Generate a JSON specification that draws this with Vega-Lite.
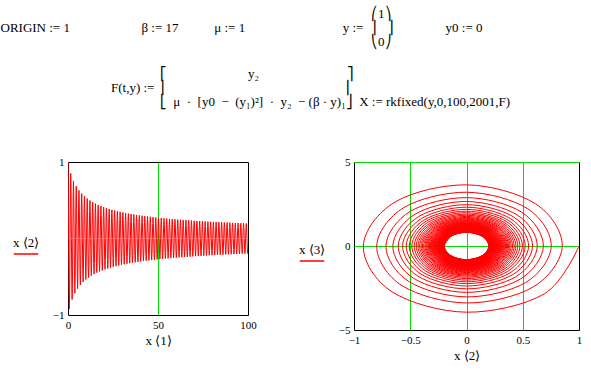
{
"$schema": "https://vega.github.io/schema/vega-lite/v6.json",
"background": "white",
"padding": {"left": 0, "top": 7, "right": 5, "bottom": 5},
"title": {
"text": [
"\u200b\u2003\u2003\u2003\u2003\u2003\u2003\u2003\u2003\u2003\u2003\u2003\u2003\u2003\u2003\u2003\u2003\u2003\u2003\u2003\u2003\u2003\u2003\u2003\u2003\u2003\u2003\u2003\u2003\u00a0\u00a0⎛1⎞",
"ORIGIN := 1\u2003\u2003\u2003\u2003\u2003\u00a0\u00a0β := 17\u2003\u2003\u00a0\u00a0\u00a0μ := 1\u2003\u2003\u2003\u2003\u2003\u2003\u2003\u00a0\u00a0y := \u00a0\u00a0⎜\u00a0\u00a0⎟\u2003\u2003\u2003\u2003y0 := 0",
"\u200b\u2003\u2003\u2003\u2003\u2003\u2003\u2003\u2003\u2003\u2003\u2003\u2003\u2003\u2003\u2003\u2003\u2003\u2003\u2003\u2003\u2003\u2003\u2003\u2003\u2003\u2003\u2003\u2003\u00a0\u00a0⎝0⎠"
],
"subtitle": [
"\u200b\u2003\u2003\u2003\u2003\u2003\u2003\u2003\u2003\u2003\u2003\u2003\u2003\u00a0⎡\u2003\u2003\u2003\u2003\u2003\u2003\u00a0y₂\u2003\u2003\u2003\u2003\u2003\u2003\u00a0\u00a0\u00a0⎤",
"\u200b\u2003\u2003\u2003\u2003\u2003\u2003\u2003\u2003\u00a0\u00a0F(t,y) :=\u00a0\u00a0⎢\u2003\u2003\u2003\u2003\u2003\u2003\u2003\u2003\u2003\u2003\u2003\u2003\u2003\u00a0\u00a0⎥",
"\u200b\u2003\u2003\u2003\u2003\u2003\u2003\u2003\u2003\u2003\u2003\u2003\u2003\u00a0⎣\u00a0\u00a0μ\u00a0\u00a0·\u00a0\u00a0[y0\u00a0\u00a0−\u00a0\u00a0(y₁)²]\u00a0\u00a0·\u00a0\u00a0y₂\u00a0\u00a0−\u00a0(β\u00a0·\u00a0y)₁⎦\u00a0\u00a0X := rkfixed(y,0,100,2001,F)"
],
"anchor": "start",
"frame": "bounds",
"font": "Liberation Serif",
"fontSize": 13,
"fontWeight": "normal",
"color": "black",
"lineHeight": 14,
"subtitleFont": "Liberation Serif",
"subtitleFontSize": 13,
"subtitleColor": "black",
"subtitleLineHeight": 14,
"subtitlePadding": 19,
"offset": 47,
"dx": -12
},
"datasets": {
"sol": [
{"t":0,"a":1,"b":0},{"t":0.19,"a":0.691,"b":-2.85},{"t":0.38,"a":0,"b":-3.94},{"t":0.57,"a":-0.661,"b":-2.73},
{"t":0.76,"a":-0.917,"b":0},{"t":0.95,"a":-0.635,"b":2.62},{"t":1.14,"a":0,"b":3.64},{"t":1.33,"a":0.612,"b":2.52},
{"t":1.52,"a":0.851,"b":0},{"t":1.71,"a":0.592,"b":-2.44},{"t":1.9,"a":0,"b":-3.39},{"t":2.1,"a":-0.573,"b":-2.36},
{"t":2.29,"a":-0.798,"b":0},{"t":2.48,"a":-0.556,"b":2.29},{"t":2.67,"a":0,"b":3.2},{"t":2.86,"a":0.541,"b":2.23},
{"t":3.05,"a":0.753,"b":0},{"t":3.24,"a":0.526,"b":-2.17},{"t":3.43,"a":0,"b":-3.03},{"t":3.62,"a":-0.513,"b":-2.11},
{"t":3.81,"a":-0.716,"b":0},{"t":4,"a":-0.5,"b":2.06},{"t":4.19,"a":0,"b":2.88},{"t":4.38,"a":0.489,"b":2.02},
{"t":4.57,"a":0.683,"b":0},{"t":4.76,"a":0.478,"b":-1.97},{"t":4.95,"a":0,"b":-2.76},{"t":5.14,"a":-0.468,"b":-1.93},
{"t":5.33,"a":-0.655,"b":0},{"t":5.52,"a":-0.458,"b":1.89},{"t":5.71,"a":0,"b":2.65},{"t":5.91,"a":0.45,"b":1.85},
{"t":6.1,"a":0.629,"b":0},{"t":6.29,"a":0.441,"b":-1.82},{"t":6.48,"a":0,"b":-2.55},{"t":6.67,"a":-0.433,"b":-1.79},
{"t":6.86,"a":-0.607,"b":0},{"t":7.05,"a":-0.426,"b":1.75},{"t":7.24,"a":0,"b":2.46},{"t":7.43,"a":0.418,"b":1.73},
{"t":7.62,"a":0.587,"b":0},{"t":7.81,"a":0.412,"b":-1.7},{"t":8,"a":0,"b":-2.38},{"t":8.19,"a":-0.405,"b":-1.67},
{"t":8.38,"a":-0.568,"b":0},{"t":8.57,"a":-0.399,"b":1.64},{"t":8.76,"a":0,"b":2.31},{"t":8.95,"a":0.393,"b":1.62},
{"t":9.14,"a":0.552,"b":0},{"t":9.33,"a":0.387,"b":-1.6},{"t":9.52,"a":0,"b":-2.24},{"t":9.72,"a":-0.382,"b":-1.58},
{"t":9.91,"a":-0.536,"b":0},{"t":10.1,"a":-0.377,"b":1.55},{"t":10.29,"a":0,"b":2.18},{"t":10.48,"a":0.372,"b":1.53},
{"t":10.67,"a":0.522,"b":0},{"t":10.86,"a":0.367,"b":-1.51},{"t":11.05,"a":0,"b":-2.13},{"t":11.24,"a":-0.362,"b":-1.49},
{"t":11.43,"a":-0.509,"b":0},{"t":11.62,"a":-0.358,"b":1.48},{"t":11.81,"a":0,"b":2.07},{"t":12,"a":0.354,"b":1.46},
{"t":12.19,"a":0.497,"b":0},{"t":12.38,"a":0.349,"b":-1.44},{"t":12.57,"a":0,"b":-2.03},{"t":12.76,"a":-0.345,"b":-1.42},
{"t":12.95,"a":-0.486,"b":0},{"t":13.14,"a":-0.342,"b":1.41},{"t":13.33,"a":0,"b":1.98},{"t":13.52,"a":0.338,"b":1.39},
{"t":13.72,"a":0.475,"b":0},{"t":13.91,"a":0.334,"b":-1.38},{"t":14.1,"a":0,"b":-1.94},{"t":14.29,"a":-0.331,"b":-1.36},
{"t":14.48,"a":-0.465,"b":0},{"t":14.67,"a":-0.327,"b":1.35},{"t":14.86,"a":0,"b":1.9},{"t":15.05,"a":0.324,"b":1.34},
{"t":15.24,"a":0.456,"b":0},{"t":15.43,"a":0.321,"b":-1.32},{"t":15.62,"a":0,"b":-1.86},{"t":15.81,"a":-0.318,"b":-1.31},
{"t":16,"a":-0.447,"b":0},{"t":16.19,"a":-0.315,"b":1.3},{"t":16.38,"a":0,"b":1.83},{"t":16.57,"a":0.312,"b":1.29},
{"t":16.76,"a":0.439,"b":0},{"t":16.95,"a":0.309,"b":-1.27},{"t":17.14,"a":0,"b":-1.79},{"t":17.33,"a":-0.306,"b":-1.26},
{"t":17.53,"a":-0.431,"b":0},{"t":17.72,"a":-0.303,"b":1.25},{"t":17.91,"a":0,"b":1.76},{"t":18.1,"a":0.301,"b":1.24},
{"t":18.29,"a":0.424,"b":0},{"t":18.48,"a":0.298,"b":-1.23},{"t":18.67,"a":0,"b":-1.73},{"t":18.86,"a":-0.296,"b":-1.22},
{"t":19.05,"a":-0.417,"b":0},{"t":19.24,"a":-0.293,"b":1.21},{"t":19.43,"a":0,"b":1.7},{"t":19.62,"a":0.291,"b":1.2},
{"t":19.81,"a":0.41,"b":0},{"t":20,"a":0.289,"b":-1.19},{"t":20.19,"a":0,"b":-1.68},{"t":20.38,"a":-0.286,"b":-1.18},
{"t":20.57,"a":-0.404,"b":0},{"t":20.76,"a":-0.284,"b":1.17},{"t":20.95,"a":0,"b":1.65},{"t":21.14,"a":0.282,"b":1.16},
{"t":21.33,"a":0.397,"b":0},{"t":21.53,"a":0.28,"b":-1.15},{"t":21.72,"a":0,"b":-1.63},{"t":21.91,"a":-0.278,"b":-1.15},
{"t":22.1,"a":-0.392,"b":0},{"t":22.29,"a":-0.276,"b":1.14},{"t":22.48,"a":0,"b":1.6},{"t":22.67,"a":0.274,"b":1.13},
{"t":22.86,"a":0.386,"b":0},{"t":23.05,"a":0.272,"b":-1.12},{"t":23.24,"a":0,"b":-1.58},{"t":23.43,"a":-0.27,"b":-1.11},
{"t":23.62,"a":-0.381,"b":0},{"t":23.81,"a":-0.268,"b":1.11},{"t":24,"a":0,"b":1.56},{"t":24.19,"a":0.266,"b":1.1},
{"t":24.38,"a":0.375,"b":0},{"t":24.57,"a":0.265,"b":-1.09},{"t":24.76,"a":0,"b":-1.54},{"t":24.95,"a":-0.263,"b":-1.08},
{"t":25.14,"a":-0.37,"b":0},{"t":25.34,"a":-0.261,"b":1.08},{"t":25.53,"a":0,"b":1.52},{"t":25.72,"a":0.259,"b":1.07},
{"t":25.91,"a":0.366,"b":0},{"t":26.1,"a":0.258,"b":-1.06},{"t":26.29,"a":0,"b":-1.5},{"t":26.48,"a":-0.256,"b":-1.06},
{"t":26.67,"a":-0.361,"b":0},{"t":26.86,"a":-0.255,"b":1.05},{"t":27.05,"a":0,"b":1.48},{"t":27.24,"a":0.253,"b":1.04},
{"t":27.43,"a":0.357,"b":0},{"t":27.62,"a":0.252,"b":-1.04},{"t":27.81,"a":0,"b":-1.46},{"t":28,"a":-0.25,"b":-1.03},
{"t":28.19,"a":-0.353,"b":0},{"t":28.38,"a":-0.249,"b":1.02},{"t":28.57,"a":0,"b":1.44},{"t":28.76,"a":0.247,"b":1.02},
{"t":28.95,"a":0.348,"b":0},{"t":29.15,"a":0.246,"b":-1.01},{"t":29.34,"a":0,"b":-1.43},{"t":29.53,"a":-0.244,"b":-1.01},
{"t":29.72,"a":-0.344,"b":0},{"t":29.91,"a":-0.243,"b":1},{"t":30.1,"a":0,"b":1.41},{"t":30.29,"a":0.242,"b":1},
{"t":30.48,"a":0.341,"b":0},{"t":30.67,"a":0.24,"b":-0.99},{"t":30.86,"a":0,"b":-1.4},{"t":31.05,"a":-0.239,"b":-0.98},
{"t":31.24,"a":-0.337,"b":0},{"t":31.43,"a":-0.238,"b":0.98},{"t":31.62,"a":0,"b":1.38},{"t":31.81,"a":0.236,"b":0.97},
{"t":32,"a":0.333,"b":0},{"t":32.19,"a":0.235,"b":-0.97},{"t":32.38,"a":0,"b":-1.37},{"t":32.57,"a":-0.234,"b":-0.96},
{"t":32.76,"a":-0.33,"b":0},{"t":32.95,"a":-0.233,"b":0.96},{"t":33.15,"a":0,"b":1.35},{"t":33.34,"a":0.231,"b":0.95},
{"t":33.53,"a":0.326,"b":0},{"t":33.72,"a":0.23,"b":-0.95},{"t":33.91,"a":0,"b":-1.34},{"t":34.1,"a":-0.229,"b":-0.94},
{"t":34.29,"a":-0.323,"b":0},{"t":34.48,"a":-0.228,"b":0.94},{"t":34.67,"a":0,"b":1.33},{"t":34.86,"a":0.227,"b":0.94},
{"t":35.05,"a":0.32,"b":0},{"t":35.24,"a":0.226,"b":-0.93},{"t":35.43,"a":0,"b":-1.31},{"t":35.62,"a":-0.225,"b":-0.93},
{"t":35.81,"a":-0.317,"b":0},{"t":36,"a":-0.224,"b":0.92},{"t":36.19,"a":0,"b":1.3},{"t":36.38,"a":0.223,"b":0.92},
{"t":36.57,"a":0.314,"b":0},{"t":36.76,"a":0.222,"b":-0.91},{"t":36.96,"a":0,"b":-1.29},{"t":37.15,"a":-0.22,"b":-0.91},
{"t":37.34,"a":-0.311,"b":0},{"t":37.53,"a":-0.219,"b":0.9},{"t":37.72,"a":0,"b":1.28},{"t":37.91,"a":0.218,"b":0.9},
{"t":38.1,"a":0.308,"b":0},{"t":38.29,"a":0.218,"b":-0.9},{"t":38.48,"a":0,"b":-1.27},{"t":38.67,"a":-0.217,"b":-0.89},
{"t":38.86,"a":-0.306,"b":0},{"t":39.05,"a":-0.215,"b":0.89},{"t":39.24,"a":0,"b":1.25},{"t":39.43,"a":0.215,"b":0.89},
{"t":39.62,"a":0.303,"b":0},{"t":39.81,"a":0.213,"b":-0.88},{"t":40,"a":0,"b":-1.24},{"t":40.19,"a":-0.213,"b":-0.88},
{"t":40.38,"a":-0.3,"b":0},{"t":40.57,"a":-0.211,"b":0.87},{"t":40.76,"a":0,"b":1.23},{"t":40.96,"a":0.211,"b":0.87},
{"t":41.15,"a":0.298,"b":0},{"t":41.34,"a":0.21,"b":-0.86},{"t":41.53,"a":0,"b":-1.22},{"t":41.72,"a":-0.21,"b":-0.86},
{"t":41.91,"a":-0.295,"b":0},{"t":42.1,"a":-0.208,"b":0.86},{"t":42.29,"a":0,"b":1.21},{"t":42.48,"a":0.208,"b":0.86},
{"t":42.67,"a":0.293,"b":0},{"t":42.86,"a":0.206,"b":-0.85},{"t":43.05,"a":0,"b":-1.2},{"t":43.24,"a":-0.206,"b":-0.85},
{"t":43.43,"a":-0.29,"b":0},{"t":43.62,"a":-0.205,"b":0.84},{"t":43.81,"a":0,"b":1.19},{"t":44,"a":0.205,"b":0.84},
{"t":44.19,"a":0.288,"b":0},{"t":44.38,"a":0.203,"b":-0.84},{"t":44.57,"a":0,"b":-1.18},{"t":44.77,"a":-0.203,"b":-0.84},
{"t":44.96,"a":-0.286,"b":0},{"t":45.15,"a":-0.201,"b":0.83},{"t":45.34,"a":0,"b":1.17},{"t":45.53,"a":0.201,"b":0.83},
{"t":45.72,"a":0.284,"b":0},{"t":45.91,"a":0.2,"b":-0.82},{"t":46.1,"a":0,"b":-1.16},{"t":46.29,"a":-0.2,"b":-0.82},
{"t":46.48,"a":-0.282,"b":0},{"t":46.67,"a":-0.198,"b":0.82},{"t":46.86,"a":0,"b":1.16},{"t":47.05,"a":0.198,"b":0.82},
{"t":47.24,"a":0.279,"b":0},{"t":47.43,"a":0.197,"b":-0.81},{"t":47.62,"a":0,"b":-1.15},{"t":47.81,"a":-0.197,"b":-0.81},
{"t":48,"a":-0.277,"b":0},{"t":48.19,"a":-0.195,"b":0.81},{"t":48.38,"a":0,"b":1.14},{"t":48.58,"a":0.195,"b":0.81},
{"t":48.77,"a":0.275,"b":0},{"t":48.96,"a":0.194,"b":-0.8},{"t":49.15,"a":0,"b":-1.13},{"t":49.34,"a":-0.194,"b":-0.8},
{"t":49.53,"a":-0.273,"b":0},{"t":49.72,"a":-0.193,"b":0.79},{"t":49.91,"a":0,"b":1.12},{"t":50.1,"a":0.193,"b":0.79},
{"t":50.29,"a":0.271,"b":0},{"t":50.48,"a":0.191,"b":-0.79},{"t":50.67,"a":0,"b":-1.12},{"t":50.86,"a":-0.191,"b":-0.79},
{"t":51.05,"a":-0.27,"b":0},{"t":51.24,"a":-0.19,"b":0.78},{"t":51.43,"a":0,"b":1.11},{"t":51.62,"a":0.19,"b":0.78},
{"t":51.81,"a":0.268,"b":0},{"t":52,"a":0.189,"b":-0.78},{"t":52.19,"a":0,"b":-1.1},{"t":52.38,"a":-0.189,"b":-0.78},
{"t":52.58,"a":-0.266,"b":0},{"t":52.77,"a":-0.187,"b":0.77},{"t":52.96,"a":0,"b":1.09},{"t":53.15,"a":0.187,"b":0.77},
{"t":53.34,"a":0.264,"b":0},{"t":53.53,"a":0.186,"b":-0.77},{"t":53.72,"a":0,"b":-1.09},{"t":53.91,"a":-0.186,"b":-0.77},
{"t":54.1,"a":-0.262,"b":0},{"t":54.29,"a":-0.185,"b":0.76},{"t":54.48,"a":0,"b":1.08},{"t":54.67,"a":0.185,"b":0.76},
{"t":54.86,"a":0.261,"b":0},{"t":55.05,"a":0.184,"b":-0.76},{"t":55.24,"a":0,"b":-1.07},{"t":55.43,"a":-0.184,"b":-0.76},
{"t":55.62,"a":-0.259,"b":0},{"t":55.81,"a":-0.183,"b":0.75},{"t":56,"a":0,"b":1.06},{"t":56.19,"a":0.183,"b":0.75},
{"t":56.39,"a":0.257,"b":0},{"t":56.58,"a":0.181,"b":-0.75},{"t":56.77,"a":0,"b":-1.06},{"t":56.96,"a":-0.181,"b":-0.75},
{"t":57.15,"a":-0.256,"b":0},{"t":57.34,"a":-0.18,"b":0.74},{"t":57.53,"a":0,"b":1.05},{"t":57.72,"a":0.18,"b":0.74},
{"t":57.91,"a":0.254,"b":0},{"t":58.1,"a":0.179,"b":-0.74},{"t":58.29,"a":0,"b":-1.04},{"t":58.48,"a":-0.179,"b":-0.74},
{"t":58.67,"a":-0.253,"b":0},{"t":58.86,"a":-0.178,"b":0.73},{"t":59.05,"a":0,"b":1.04},{"t":59.24,"a":0.178,"b":0.73},
{"t":59.43,"a":0.251,"b":0},{"t":59.62,"a":0.177,"b":-0.73},{"t":59.81,"a":0,"b":-1.03},{"t":60,"a":-0.177,"b":-0.73},
{"t":60.19,"a":-0.25,"b":0},{"t":60.39,"a":-0.176,"b":0.73},{"t":60.58,"a":0,"b":1.03},{"t":60.77,"a":0.176,"b":0.73},
{"t":60.96,"a":0.248,"b":0},{"t":61.15,"a":0.175,"b":-0.72},{"t":61.34,"a":0,"b":-1.02},{"t":61.53,"a":-0.175,"b":-0.72},
{"t":61.72,"a":-0.247,"b":0},{"t":61.91,"a":-0.174,"b":0.72},{"t":62.1,"a":0,"b":1.01},{"t":62.29,"a":0.174,"b":0.72},
{"t":62.48,"a":0.245,"b":0},{"t":62.67,"a":0.173,"b":-0.71},{"t":62.86,"a":0,"b":-1.01},{"t":63.05,"a":-0.173,"b":-0.71},
{"t":63.24,"a":-0.244,"b":0},{"t":63.43,"a":-0.172,"b":0.71},{"t":63.62,"a":0,"b":1},{"t":63.81,"a":0.172,"b":0.71},
{"t":64,"a":0.243,"b":0},{"t":64.2,"a":0.171,"b":-0.71},{"t":64.39,"a":0,"b":-1},{"t":64.58,"a":-0.171,"b":-0.71},
{"t":64.77,"a":-0.241,"b":0},{"t":64.96,"a":-0.17,"b":0.7},{"t":65.15,"a":0,"b":0.99},{"t":65.34,"a":0.17,"b":0.7},
{"t":65.53,"a":0.24,"b":0},{"t":65.72,"a":0.169,"b":-0.7},{"t":65.91,"a":0,"b":-0.99},{"t":66.1,"a":-0.169,"b":-0.7},
{"t":66.29,"a":-0.239,"b":0},{"t":66.48,"a":-0.168,"b":0.69},{"t":66.67,"a":0,"b":0.98},{"t":66.86,"a":0.168,"b":0.69},
{"t":67.05,"a":0.237,"b":0},{"t":67.24,"a":0.167,"b":-0.69},{"t":67.43,"a":0,"b":-0.98},{"t":67.62,"a":-0.167,"b":-0.69},
{"t":67.81,"a":-0.236,"b":0},{"t":68,"a":-0.166,"b":0.69},{"t":68.2,"a":0,"b":0.97},{"t":68.39,"a":0.166,"b":0.69},
{"t":68.58,"a":0.235,"b":0},{"t":68.77,"a":0.166,"b":-0.68},{"t":68.96,"a":0,"b":-0.97},{"t":69.15,"a":-0.166,"b":-0.68},
{"t":69.34,"a":-0.234,"b":0},{"t":69.53,"a":-0.165,"b":0.68},{"t":69.72,"a":0,"b":0.96},{"t":69.91,"a":0.165,"b":0.68},
{"t":70.1,"a":0.232,"b":0},{"t":70.29,"a":0.164,"b":-0.68},{"t":70.48,"a":0,"b":-0.96},{"t":70.67,"a":-0.164,"b":-0.68},
{"t":70.86,"a":-0.231,"b":0},{"t":71.05,"a":-0.163,"b":0.67},{"t":71.24,"a":0,"b":0.95},{"t":71.43,"a":0.163,"b":0.67},
{"t":71.62,"a":0.23,"b":0},{"t":71.81,"a":0.162,"b":-0.67},{"t":72.01,"a":0,"b":-0.95},{"t":72.2,"a":-0.162,"b":-0.67},
{"t":72.39,"a":-0.229,"b":0},{"t":72.58,"a":-0.161,"b":0.67},{"t":72.77,"a":0,"b":0.94},{"t":72.96,"a":0.161,"b":0.67},
{"t":73.15,"a":0.228,"b":0},{"t":73.34,"a":0.161,"b":-0.66},{"t":73.53,"a":0,"b":-0.94},{"t":73.72,"a":-0.161,"b":-0.66},
{"t":73.91,"a":-0.227,"b":0},{"t":74.1,"a":-0.16,"b":0.66},{"t":74.29,"a":0,"b":0.93},{"t":74.48,"a":0.16,"b":0.66},
{"t":74.67,"a":0.226,"b":0},{"t":74.86,"a":0.159,"b":-0.66},{"t":75.05,"a":0,"b":-0.93},{"t":75.24,"a":-0.159,"b":-0.66},
{"t":75.43,"a":-0.224,"b":0},{"t":75.62,"a":-0.158,"b":0.65},{"t":75.82,"a":0,"b":0.92},{"t":76.01,"a":0.158,"b":0.65},
{"t":76.2,"a":0.223,"b":0},{"t":76.39,"a":0.158,"b":-0.65},{"t":76.58,"a":0,"b":-0.92},{"t":76.77,"a":-0.158,"b":-0.65},
{"t":76.96,"a":-0.222,"b":0},{"t":77.15,"a":-0.157,"b":0.65},{"t":77.34,"a":0,"b":0.91},{"t":77.53,"a":0.157,"b":0.65},
{"t":77.72,"a":0.221,"b":0},{"t":77.91,"a":0.156,"b":-0.64},{"t":78.1,"a":0,"b":-0.91},{"t":78.29,"a":-0.156,"b":-0.64},
{"t":78.48,"a":-0.22,"b":0},{"t":78.67,"a":-0.155,"b":0.64},{"t":78.86,"a":0,"b":0.91},{"t":79.05,"a":0.155,"b":0.64},
{"t":79.24,"a":0.219,"b":0},{"t":79.43,"a":0.155,"b":-0.64},{"t":79.62,"a":0,"b":-0.9},{"t":79.82,"a":-0.155,"b":-0.64},
{"t":80.01,"a":-0.218,"b":0},{"t":80.2,"a":-0.154,"b":0.63},{"t":80.39,"a":0,"b":0.9},{"t":80.58,"a":0.154,"b":0.63},
{"t":80.77,"a":0.217,"b":0},{"t":80.96,"a":0.153,"b":-0.63},{"t":81.15,"a":0,"b":-0.89},{"t":81.34,"a":-0.153,"b":-0.63},
{"t":81.53,"a":-0.216,"b":0},{"t":81.72,"a":-0.153,"b":0.63},{"t":81.91,"a":0,"b":0.89},{"t":82.1,"a":0.153,"b":0.63},
{"t":82.29,"a":0.215,"b":0},{"t":82.48,"a":0.152,"b":-0.63},{"t":82.67,"a":0,"b":-0.89},{"t":82.86,"a":-0.152,"b":-0.63},
{"t":83.05,"a":-0.214,"b":0},{"t":83.24,"a":-0.151,"b":0.62},{"t":83.43,"a":0,"b":0.88},{"t":83.63,"a":0.151,"b":0.62},
{"t":83.82,"a":0.213,"b":0},{"t":84.01,"a":0.151,"b":-0.62},{"t":84.2,"a":0,"b":-0.88},{"t":84.39,"a":-0.151,"b":-0.62},
{"t":84.58,"a":-0.213,"b":0},{"t":84.77,"a":-0.15,"b":0.62},{"t":84.96,"a":0,"b":0.87},{"t":85.15,"a":0.15,"b":0.62},
{"t":85.34,"a":0.212,"b":0},{"t":85.53,"a":0.149,"b":-0.62},{"t":85.72,"a":0,"b":-0.87},{"t":85.91,"a":-0.149,"b":-0.62},
{"t":86.1,"a":-0.211,"b":0},{"t":86.29,"a":-0.149,"b":0.61},{"t":86.48,"a":0,"b":0.87},{"t":86.67,"a":0.149,"b":0.61},
{"t":86.86,"a":0.21,"b":0},{"t":87.05,"a":0.148,"b":-0.61},{"t":87.24,"a":0,"b":-0.86},{"t":87.43,"a":-0.148,"b":-0.61},
{"t":87.63,"a":-0.209,"b":0},{"t":87.82,"a":-0.147,"b":0.61},{"t":88.01,"a":0,"b":0.86},{"t":88.2,"a":0.147,"b":0.61},
{"t":88.39,"a":0.208,"b":0},{"t":88.58,"a":0.147,"b":-0.61},{"t":88.77,"a":0,"b":-0.86},{"t":88.96,"a":-0.147,"b":-0.61},
{"t":89.15,"a":-0.207,"b":0},{"t":89.34,"a":-0.146,"b":0.6},{"t":89.53,"a":0,"b":0.85},{"t":89.72,"a":0.146,"b":0.6},
{"t":89.91,"a":0.206,"b":0},{"t":90.1,"a":0.146,"b":-0.6},{"t":90.29,"a":0,"b":-0.85},{"t":90.48,"a":-0.146,"b":-0.6},
{"t":90.67,"a":-0.206,"b":0},{"t":90.86,"a":-0.145,"b":0.6},{"t":91.05,"a":0,"b":0.85},{"t":91.24,"a":0.145,"b":0.6},
{"t":91.44,"a":0.205,"b":0},{"t":91.63,"a":0.144,"b":-0.6},{"t":91.82,"a":0,"b":-0.84},{"t":92.01,"a":-0.144,"b":-0.6},
{"t":92.2,"a":-0.204,"b":0},{"t":92.39,"a":-0.144,"b":0.59},{"t":92.58,"a":0,"b":0.84},{"t":92.77,"a":0.144,"b":0.59},
{"t":92.96,"a":0.203,"b":0},{"t":93.15,"a":0.143,"b":-0.59},{"t":93.34,"a":0,"b":-0.84},{"t":93.53,"a":-0.143,"b":-0.59},
{"t":93.72,"a":-0.202,"b":0},{"t":93.91,"a":-0.143,"b":0.59},{"t":94.1,"a":0,"b":0.83},{"t":94.29,"a":0.143,"b":0.59},
{"t":94.48,"a":0.202,"b":0},{"t":94.67,"a":0.142,"b":-0.59},{"t":94.86,"a":0,"b":-0.83},{"t":95.05,"a":-0.142,"b":-0.59},
{"t":95.25,"a":-0.201,"b":0},{"t":95.44,"a":-0.142,"b":0.58},{"t":95.63,"a":0,"b":0.83},{"t":95.82,"a":0.142,"b":0.58},
{"t":96.01,"a":0.2,"b":0},{"t":96.2,"a":0.141,"b":-0.58},{"t":96.39,"a":0,"b":-0.82},{"t":96.58,"a":-0.141,"b":-0.58},
{"t":96.77,"a":-0.199,"b":0},{"t":96.96,"a":-0.141,"b":0.58},{"t":97.15,"a":0,"b":0.82},{"t":97.34,"a":0.141,"b":0.58},
{"t":97.53,"a":0.199,"b":0},{"t":97.72,"a":0.14,"b":-0.58},{"t":97.91,"a":0,"b":-0.82},{"t":98.1,"a":-0.14,"b":-0.58},
{"t":98.29,"a":-0.198,"b":0},{"t":98.48,"a":-0.14,"b":0.58},{"t":98.67,"a":0,"b":0.81},{"t":98.86,"a":0.14,"b":0.58},
{"t":99.05,"a":0.197,"b":0},{"t":99.25,"a":0.139,"b":-0.57},{"t":99.44,"a":0,"b":-0.81},{"t":99.63,"a":-0.139,"b":-0.57},
{"t":99.82,"a":-0.196,"b":0},{"t":100,"a":-0.139,"b":0.57}
]
},
"spacing": 41,
"hconcat": [
{
"width": 180,
"height": 153,
"data": {"name": "sol"},
"mark": {"type": "line", "strokeWidth": 1, "clip": true},
"encoding": {
"x": {"field": "t", "type": "quantitative", "scale": {"domain": [0, 100], "nice": false, "zero": false},
"axis": {"values": [0, 50, 100], "format": "d", "title": "x ⟨1⟩", "gridOpacity": {"condition": {"test": "datum.value == 50", "value": 1}, "value": 0}}},
"y": {"field": "a", "type": "quantitative", "scale": {"domain": [-1, 1], "nice": false, "zero": false},
"axis": {"values": [-1, 0, 1], "format": "d", "title": null, "gridOpacity": {"condition": {"test": "datum.value == 0", "value": 1}, "value": 0}}},
"color": {"datum": "x ⟨2⟩", "type": "nominal", "scale": {"range": ["#ff0000"]},
"legend": {"orient": "none", "legendX": -55, "legendY": 75, "title": "x ⟨2⟩", "labelExpr": "''"}}
}
},
{
"width": 225,
"height": 168,
"data": {"name": "sol"},
"mark": {"type": "line", "strokeWidth": 1, "interpolate": "cardinal", "clip": true},
"encoding": {
"x": {"field": "a", "type": "quantitative", "scale": {"domain": [-1, 1], "nice": false, "zero": false},
"axis": {"values": [-1, -0.5, 0, 0.5, 1], "format": "~g", "title": "x ⟨2⟩", "gridOpacity": {"condition": {"test": "abs(datum.value) < 0.9", "value": 1}, "value": 0}}},
"y": {"field": "b", "type": "quantitative", "scale": {"domain": [-5, 5], "nice": false, "zero": false},
"axis": {"values": [-5, 0, 5], "format": "d", "title": null, "gridOpacity": {"condition": {"test": "datum.value > -4", "value": 1}, "value": 0}}},
"order": {"value": null},
"color": {"datum": "x ⟨3⟩", "type": "nominal", "scale": {"range": ["#ff0000"]},
"legend": {"orient": "none", "legendX": -55, "legendY": 82, "title": "x ⟨3⟩", "labelExpr": "''"}}
}
}
],
"resolve": {"scale": {"color": "independent"}, "legend": {"color": "independent"}},
"config": {
"view": {"stroke": "black", "strokeWidth": 1},
"axis": {"domain": false, "ticks": false, "grid": true, "gridColor": "#00dd00", "gridWidth": 1,
"labelFont": "Liberation Serif", "labelFontSize": 11, "labelColor": "black", "labelPadding": 4, "labelFlush": false, "labelOverlap": false,
"titleFont": "Liberation Serif", "titleFontSize": 13, "titleFontWeight": "normal", "titleColor": "black", "titlePadding": 4, "zindex": 1},
"legend": {"titleFont": "Liberation Serif", "titleFontSize": 13, "titleFontWeight": "normal", "titleColor": "black",
"symbolType": "stroke", "symbolSize": 600, "symbolStrokeWidth": 1.5, "padding": 0, "titlePadding": -9, "labelFontSize": 1, "labelLimit": 1}
}
}
